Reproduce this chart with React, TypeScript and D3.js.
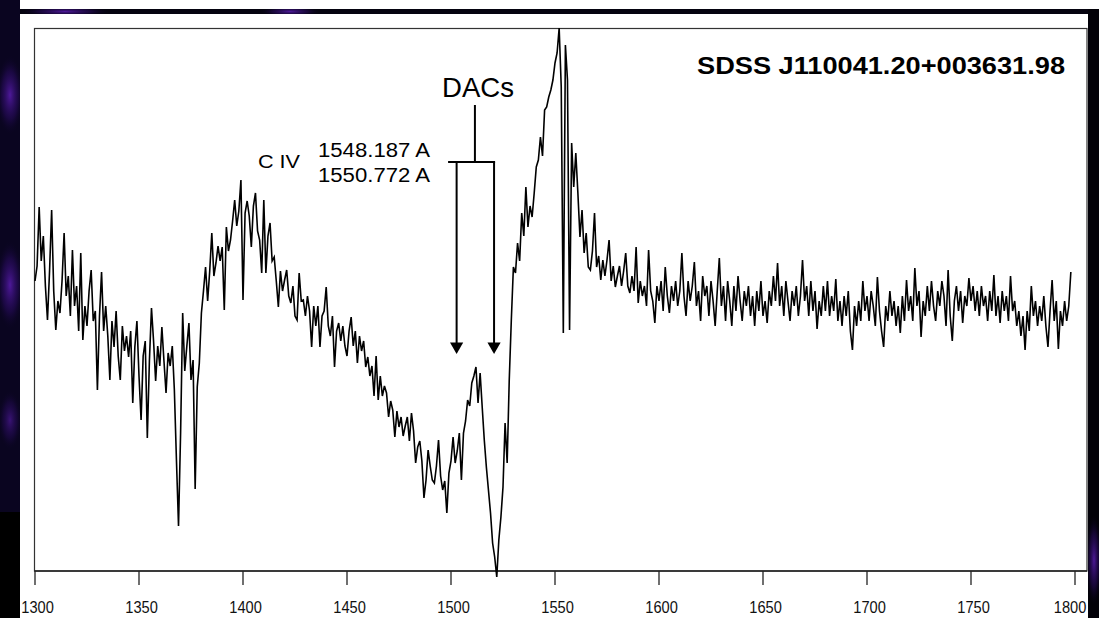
import React from 'react';
import * as d3 from 'd3';

// Rest-frame wavelength grid (Angstrom), 1 A sampling
const WAVE_START = 1300;
const WAVE_STEP = 1;

// Flux (arbitrary units), per 100 A block
const FLUX_1300_1399 = [
  29.0, 30.5, 36.4, 31.0, 33.5, 28.5, 25.1, 30.0, 36.1, 28.0,
  24.1, 27.0, 25.8, 29.0, 33.8, 27.5, 29.5, 25.5, 32.1, 26.5,
  28.5, 24.0, 31.8, 23.1, 26.5, 24.5, 28.0, 30.1, 25.0, 26.0,
  18.1, 25.5, 29.9, 24.0, 26.5, 23.5, 19.1, 25.0, 22.4, 26.0,
  21.5, 19.1, 24.5, 22.0, 23.5, 21.4, 24.0, 16.8, 22.4, 25.0,
  19.5, 15.1, 21.5, 23.0, 13.3, 21.0, 26.3, 23.0, 19.0, 22.5,
  20.5, 24.4, 21.0, 17.8, 21.8, 20.5, 22.5, 18.1, 11.1, 4.5,
  13.8, 25.8, 20.0, 22.5, 24.8, 19.1, 21.1, 8.2, 18.4, 20.8,
  25.8, 28.0, 30.4, 27.0, 30.0, 33.8, 29.5, 30.8, 32.5, 31.0,
  32.4, 26.1, 34.4, 32.0, 33.1, 35.0, 37.1, 34.5, 36.0, 39.1,
];
const FLUX_1400_1499 = [
  27.1, 35.8, 37.0, 35.5, 32.4, 36.5, 37.8, 34.0, 33.1, 29.8,
  37.1, 29.8, 33.5, 34.8, 31.0, 31.4, 29.0, 26.4, 30.0, 28.0,
  29.1, 30.1, 27.5, 26.8, 28.5, 25.5, 25.1, 29.8, 27.0, 27.1,
  25.5, 27.5, 26.0, 22.4, 26.5, 24.5, 26.5, 22.4, 25.5, 26.0,
  28.4, 24.5, 23.5, 25.5, 20.4, 24.0, 24.8, 23.0, 24.5, 22.5,
  21.5, 24.0, 25.4, 22.5, 24.0, 20.8, 23.5, 22.0, 23.0, 20.4,
  21.4, 19.5, 20.5, 17.5, 21.5, 17.1, 19.5, 17.5, 18.5, 17.8,
  15.4, 17.0, 16.1, 13.4, 16.0, 14.4, 15.4, 13.5, 14.5, 15.4,
  13.0, 15.8, 14.0, 10.8, 12.4, 13.0, 11.0, 7.3, 9.1, 12.1,
  10.5, 9.1, 8.8, 10.5, 13.1, 9.5, 8.1, 9.0, 5.8, 9.8,
];
const FLUX_1500_1599 = [
  11.0, 13.4, 10.8, 12.0, 13.8, 9.1, 13.8, 15.0, 17.1, 16.5,
  18.8, 19.5, 20.4, 16.8, 19.8, 16.4, 13.1, 10.4, 8.1, 5.8,
  2.8, 1.4, -0.6, 3.1, 5.4, 8.4, 14.8, 10.8, 19.1, 25.1,
  30.4, 29.8, 32.8, 31.0, 35.8, 33.5, 38.4, 34.4, 36.5, 35.4,
  37.8, 40.4, 41.1, 43.4, 41.5, 46.1, 46.4, 47.4, 48.1, 49.1,
  50.8, 51.8, 54.3, 48.4, 23.8, 52.6, 49.1, 24.1, 42.8, 38.4,
  41.8, 37.8, 33.4, 36.1, 31.8, 33.8, 30.4, 30.1, 32.0, 35.8,
  30.4, 31.5, 29.1, 31.1, 29.5, 31.1, 33.1, 29.0, 30.5, 28.4,
  29.5, 30.5, 28.5, 30.0, 31.8, 28.5, 27.8, 29.5, 28.0, 32.4,
  26.8, 29.0, 27.5, 28.5, 26.5, 32.1, 28.0, 27.0, 24.8, 28.5,
];
const FLUX_1600_1699 = [
  27.0, 29.0, 26.0, 30.4, 27.5, 25.8, 28.5, 27.0, 29.0, 26.5,
  28.0, 31.8, 27.5, 25.5, 29.0, 27.0, 28.5, 30.9, 26.5, 28.0,
  25.0, 29.5, 27.5, 28.5, 25.5, 29.0, 27.0, 24.5, 28.0, 31.3,
  26.5, 28.5, 25.0, 29.0, 27.0, 24.5, 28.5, 26.0, 29.5, 27.0,
  25.0, 28.0, 26.5, 28.5, 25.5, 27.5, 24.5, 28.0, 26.0, 29.0,
  25.5, 27.0, 24.8, 28.0, 26.5, 29.5, 27.0, 30.8, 26.5, 28.5,
  25.5, 29.0, 27.0, 25.0, 28.0, 26.5, 28.5, 25.5, 27.5, 31.1,
  27.0, 28.5, 25.5, 29.0, 26.0, 28.0, 24.2, 27.0, 25.5, 28.5,
  26.0, 29.0, 25.5, 27.5, 26.0, 29.2, 25.0, 27.0, 24.5, 27.5,
  25.5, 28.0, 24.0, 22.1, 26.5, 24.5, 27.0, 25.0, 29.0, 26.0,
];
const FLUX_1700_1798 = [
  27.5, 25.0, 28.0, 26.5, 24.5, 29.4, 26.0, 24.0, 22.4, 26.5,
  25.0, 28.0, 25.5, 27.0, 24.5, 26.5, 23.8, 27.5, 25.0, 29.1,
  26.0, 27.5, 25.0, 30.3, 26.5, 28.0, 23.4, 27.0, 25.5, 28.5,
  26.0, 29.0, 26.5, 25.0, 28.0, 26.5, 29.0, 27.5, 24.5, 30.1,
  25.5, 23.0, 27.0, 28.5, 26.0, 28.0, 24.8, 27.5, 26.5, 29.3,
  27.0, 28.5, 26.0, 28.0, 25.5, 28.5, 26.5, 27.5, 25.0, 28.0,
  26.0, 29.6, 25.5, 27.5, 24.8, 28.0, 26.0, 27.5, 25.0, 29.5,
  26.0, 27.0, 24.5, 26.0, 23.5, 25.5, 22.1, 26.0, 24.0, 28.5,
  25.5, 27.0, 24.5, 26.5, 25.0, 27.5, 24.5, 22.4, 26.0, 29.1,
  25.0, 27.0, 22.2, 26.0, 24.5, 27.0, 25.0, 26.5, 29.9,
];

const X_TICKS = [1300, 1350, 1400, 1450, 1500, 1550, 1600, 1650, 1700, 1750, 1800];
const TITLE = 'SDSS J110041.20+003631.98';
const ION_LABEL = 'C IV';
const DAC_LABEL = 'DACs';
const LINE_LABELS = ['1548.187 A', '1550.772 A'];
const DAC_WAVES = [1502.7, 1520.7]; // arrow positions (A)
const DAC_BAR = { left: 1498.6, right: 1521.2, stem: 1511.5 };
const DAC_FLUX = { stemTop: 46.6, bar: 40.9, tip: 21.7 };

const FONT = 'Liberation Sans, Arial, Helvetica, sans-serif';

export default function App() {
  const flux = [...FLUX_1300_1399, ...FLUX_1400_1499, ...FLUX_1500_1599, ...FLUX_1600_1699, ...FLUX_1700_1798];
  const data = flux.map((f, i) => ({ w: WAVE_START + i * WAVE_STEP, f }));

  const x = d3.scaleLinear().domain([1300, 1800]).range([35, 1075]);
  const y = d3.scaleLinear().domain([0, 54.2]).range([571, 29]);
  const path = d3.line<{ w: number; f: number }>()
    .x(d => x(d.w)).y(d => y(d.f))(data) || '';

  const frameL = 34.5, frameR = 1087, frameT = 28.5, frameB = 571;

  const barY = y(DAC_FLUX.bar);
  const tipY = y(DAC_FLUX.tip);
  const headH = 11.5, headW = 6.6;

  return (
    <svg width={1104} height={618} style={{ position: 'absolute', left: 0, top: 0 }}
      xmlns="http://www.w3.org/2000/svg">
      <defs>
        <radialGradient id="glow" cx="50%" cy="50%" r="50%">
          <stop offset="0%" stopColor="#5a1cb0" stopOpacity={0.85} />
          <stop offset="60%" stopColor="#2e0c6a" stopOpacity={0.45} />
          <stop offset="100%" stopColor="#0a0420" stopOpacity={0} />
        </radialGradient>
        <clipPath id="leftCol"><rect x={0} y={0} width={20} height={618} /></clipPath>
        <clipPath id="topBand"><rect x={0} y={9} width={1099} height={5} /></clipPath>
        <clipPath id="rightCol"><rect x={1088} y={9} width={11} height={609} /></clipPath>
      </defs>
      <rect x={0} y={0} width={1104} height={618} fill="#ffffff" />
      {/* slide frame */}
      <rect x={0} y={9} width={1099} height={5} fill="#05030f" />
      <g clipPath="url(#topBand)">
        <ellipse cx={65} cy={11.5} rx={45} ry={5} fill="url(#glow)" />
        <ellipse cx={290} cy={11.5} rx={30} ry={5} fill="url(#glow)" />
      </g>
      <rect x={0} y={0} width={20} height={618} fill="#0a0520" />
      <g clipPath="url(#leftCol)">
        <ellipse cx={10} cy={95} rx={14} ry={40} fill="url(#glow)" />
        <ellipse cx={10} cy={285} rx={14} ry={45} fill="url(#glow)" />
        <ellipse cx={10} cy={420} rx={12} ry={30} fill="url(#glow)" opacity={0.7} />
      </g>
      <rect x={0} y={512} width={20} height={106} fill="#000000" />
      <rect x={1088} y={9} width={11} height={609} fill="#020108" />
      <g clipPath="url(#rightCol)">
        <ellipse cx={1094} cy={560} rx={8} ry={45} fill="url(#glow)" />
      </g>

      {/* plot frame */}
      <rect x={frameL} y={frameT} width={frameR - frameL} height={frameB - frameT}
        fill="none" stroke="#333" strokeWidth={1.2} />
      <line x1={frameL} x2={frameR} y1={frameB} y2={frameB} stroke="#222" strokeWidth={1.3} />

      {/* ticks */}
      {X_TICKS.map(t => (
        <g key={t}>
          <line x1={x(t)} x2={x(t)} y1={frameB} y2={frameB + 14} stroke="#222" strokeWidth={1.3} />
          <text x={Math.min(x(t) + 2.5, frameR - 17)} y={613} textAnchor="middle"
            fontFamily={FONT} fontSize={16} textLength={32.5} lengthAdjust="spacingAndGlyphs"
            fill="#111">{t}</text>
        </g>
      ))}

      {/* spectrum */}
      <path d={path} fill="none" stroke="#000" strokeWidth={1.6} strokeLinejoin="miter" strokeMiterlimit={4} />

      {/* title */}
      <text x={1065} y={74} textAnchor="end" fontFamily={FONT} fontWeight="bold" fontSize={24}
        textLength={368} lengthAdjust="spacingAndGlyphs" fill="#000">{TITLE}</text>

      {/* C IV labels */}
      <text x={258} y={168} fontFamily={FONT} fontSize={19} textLength={42}
        lengthAdjust="spacingAndGlyphs" fill="#000">{ION_LABEL}</text>
      <text x={318} y={157.3} fontFamily={FONT} fontSize={20.5} textLength={112}
        lengthAdjust="spacingAndGlyphs" fill="#000">{LINE_LABELS[0]}</text>
      <text x={318} y={182.3} fontFamily={FONT} fontSize={20.5} textLength={112}
        lengthAdjust="spacingAndGlyphs" fill="#000">{LINE_LABELS[1]}</text>

      {/* DACs annotation */}
      <text x={478} y={97} textAnchor="middle" fontFamily={FONT} fontSize={28}
        textLength={72} lengthAdjust="spacingAndGlyphs" fill="#000">{DAC_LABEL}</text>
      <line x1={x(DAC_BAR.stem)} x2={x(DAC_BAR.stem)} y1={y(DAC_FLUX.stemTop)} y2={barY}
        stroke="#000" strokeWidth={2} />
      <line x1={x(DAC_BAR.left)} x2={x(DAC_BAR.right)} y1={barY} y2={barY} stroke="#000" strokeWidth={2} />
      {DAC_WAVES.map(w => (
        <g key={w}>
          <line x1={x(w)} x2={x(w)} y1={barY} y2={tipY - headH + 1} stroke="#000" strokeWidth={2} />
          <polygon points={`${x(w) - headW},${tipY - headH} ${x(w) + headW},${tipY - headH} ${x(w)},${tipY}`}
            fill="#000" />
        </g>
      ))}
    </svg>
  );
}
